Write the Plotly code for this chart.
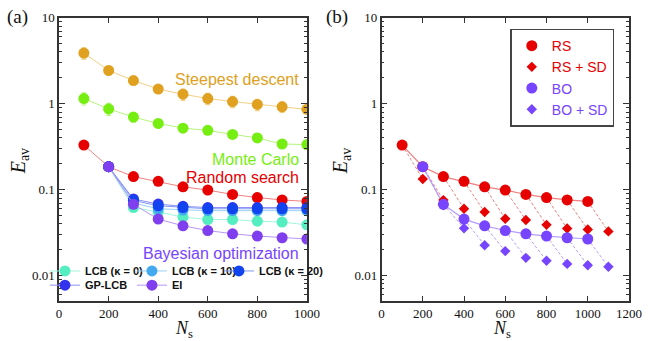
import plotly.graph_objects as go

# ---------------- data ----------------
N = [100, 200, 300, 400, 500, 600, 700, 800, 900, 1000]
steepest = [3.88, 2.44, 1.86, 1.48, 1.29, 1.15, 1.06, 0.98, 0.92, 0.86]
steepest_err = [0.15, 0.12, 0.08, 0.09, 0.15, 0.15, 0.15, 0.15, 0.14, 0.06]
monte = [1.15, 0.87, 0.70, 0.59, 0.52, 0.49, 0.44, 0.40, 0.34, 0.335]
monte_err = [0.16, 0.16, 0.13, 0.11, 0.10, 0.09, 0.09, 0.07, 0.065, 0.02]
rs = [0.33, 0.185, 0.142, 0.125, 0.108, 0.099, 0.088, 0.081, 0.076, 0.073]

N_bo = [200, 300, 400, 500, 600, 700, 800, 900, 1000]
lcb0 = [0.185, 0.062, 0.055, 0.048, 0.045, 0.045, 0.043, 0.042, 0.039]
lcb10 = [0.185, 0.070, 0.060, 0.058, 0.057, 0.057, 0.057, 0.057, 0.057]
lcb20 = [0.185, 0.075, 0.065, 0.062, 0.060, 0.060, 0.060, 0.060, 0.060]
gplcb = [0.185, 0.078, 0.068, 0.064, 0.062, 0.062, 0.062, 0.062, 0.062]
ei = [0.185, 0.0675, 0.0455, 0.038, 0.0335, 0.0307, 0.0289, 0.0276, 0.0267]

N_rs_sd = [200, 300, 400, 500, 600, 700, 800, 900, 1000, 1100]
rs_sd = [0.133, 0.0757, 0.060, 0.055, 0.046, 0.0444, 0.039, 0.0353, 0.0344, 0.0327]
N_bo_sd = [300, 400, 500, 600, 700, 800, 900, 1000, 1100]
bo_sd = [0.066, 0.0356, 0.0226, 0.0193, 0.0161, 0.0149, 0.0137, 0.0132, 0.0127]

ytickvals = [0.01, 0.1, 1, 10]
yticktext = ["0.01", "0.1", "1", "10"]

# ---------------- style ----------------
W, H = 655, 341
C_SD, C_SD_L = "#e0a020", "#f2cf85"
C_MC, C_MC_L = "#77ee11", "#b5f57f"
C_RS, C_RS_L = "#e60000", "#f08080"
C_L0, C_L10, C_L20, C_GP, C_EI = "#55eec0", "#44aaf0", "#1144ee", "#3333ee", "#7f3fee"
C_BO, C_BO_L = "#7744ff", "#b59cff"

def light(hexc, f=0.45):
    h = hexc.lstrip("#")
    r, g, b = (int(h[i:i + 2], 16) for i in (0, 2, 4))
    r, g, b = (int(c + (255 - c) * f) for c in (r, g, b))
    return f"rgb({r},{g},{b})"

fig = go.Figure()
MS = 11

def series(x, y, col, lcol, name=None, err=None, xa="x", ya="y", legend=None, show=False):
    kw = {}
    if err is not None:
        kw["error_y"] = dict(type="data", array=[e * v for e, v in zip(err, y)],
                             color=lcol, thickness=1.2, width=2.5)
    fig.add_trace(go.Scatter(x=x, y=y, mode="lines+markers", name=name,
                             line=dict(color=lcol, width=1),
                             marker=dict(color=col, size=MS, symbol="circle"),
                             xaxis=xa, yaxis=ya, showlegend=show,
                             legend=legend, **kw))

# ---- panel (a) ----
series(N, steepest, C_SD, C_SD_L, err=steepest_err)
series(N, monte, C_MC, C_MC_L, err=monte_err)
series(N, rs, C_RS, C_RS_L)
series(N_bo, lcb0, C_L0, light(C_L0), name="LCB (κ = 0)", legend="legend", show=True)
series(N_bo, lcb10, C_L10, light(C_L10), name="LCB (κ = 10)", legend="legend", show=True)
series(N_bo, gplcb, C_GP, light(C_GP), name="GP-LCB", legend="legend2", show=True)
series(N_bo, lcb20, C_L20, light(C_L20), name="LCB (κ = 20)", legend="legend", show=True)
series(N_bo, ei, C_EI, light(C_EI), name="EI", legend="legend2", show=True)
# invisible spacer entry so the last legend text is not clipped
fig.add_trace(go.Scatter(x=[None], y=[None], mode="markers", name=" ",
                         marker=dict(color="rgba(0,0,0,0)"), legend="legend",
                         showlegend=True, hoverinfo="skip"))

# ---- panel (b) ----
def connectors(xa_list, ya_list, xb_list, yb_list):
    xs, ys = [], []
    for xa_, ya_, xb_, yb_ in zip(xa_list, ya_list, xb_list, yb_list):
        xs += [xa_, xb_, None]
        ys += [ya_, yb_, None]
    return xs, ys

cx, cy = connectors(N, rs, N_rs_sd, rs_sd)
fig.add_trace(go.Scatter(x=cx, y=cy, mode="lines", line=dict(color=C_RS_L, width=1, dash="3px,2px"),
                         xaxis="x2", yaxis="y2", showlegend=False))
cx, cy = connectors(N_bo, ei, N_bo_sd, bo_sd)
fig.add_trace(go.Scatter(x=cx, y=cy, mode="lines", line=dict(color=C_BO_L, width=1, dash="3px,2px"),
                         xaxis="x2", yaxis="y2", showlegend=False))
fig.add_trace(go.Scatter(x=N, y=rs, mode="lines", line=dict(color=C_RS_L, width=1.2),
                         xaxis="x2", yaxis="y2", showlegend=False))
fig.add_trace(go.Scatter(x=N_bo, y=ei, mode="lines", line=dict(color=C_BO_L, width=1.2),
                         xaxis="x2", yaxis="y2", showlegend=False))
fig.add_trace(go.Scatter(x=N, y=rs, mode="markers", name=f"<span style='color:{C_RS}'>RS</span>",
                         marker=dict(color=C_RS, size=MS), xaxis="x2", yaxis="y2",
                         legend="legend3", legendgroup="rs"))
fig.add_trace(go.Scatter(x=N_rs_sd, y=rs_sd, mode="markers", name=f"<span style='color:{C_RS}'>RS + SD</span>",
                         marker=dict(color=C_RS, size=8, symbol="diamond"), xaxis="x2", yaxis="y2",
                         legend="legend3", legendgroup="rs"))
fig.add_trace(go.Scatter(x=N_bo, y=ei, mode="markers", name=f"<span style='color:{C_BO}'>BO</span>",
                         marker=dict(color=C_BO, size=MS), xaxis="x2", yaxis="y2",
                         legend="legend3", legendgroup="bo"))
fig.add_trace(go.Scatter(x=N_bo_sd, y=bo_sd, mode="markers", name=f"<span style='color:{C_BO}'>BO + SD</span>",
                         marker=dict(color=C_BO, size=8, symbol="diamond"), xaxis="x2", yaxis="y2",
                         legend="legend3", legendgroup="bo"))

# ---------------- layout ----------------
px = lambda p: p / W
py = lambda p: 1 - p / H
ydom = [py(300), py(11)]
minor_vals = [m * 10 ** e for e in (-3, -2, -1, 0) for m in range(2, 10)]
tickfont = dict(family="Liberation Serif, Times New Roman, serif", size=13, color="#111")

def xaxis(dom, rng, dtick, anchor):
    return dict(domain=dom, range=rng, tick0=0, dtick=dtick, ticks="inside", ticklen=5,
                tickwidth=1, tickcolor="#333", showline=True, linecolor="#333", linewidth=1.5,
                mirror="ticks", showgrid=False, zeroline=False, tickfont=tickfont,
                anchor=anchor, fixedrange=True)

def yaxis(anchor):
    return dict(domain=ydom, type="log", range=[-2.293, 1], tickvals=ytickvals,
                ticktext=yticktext, ticks="inside", ticklen=6, tickwidth=1, tickcolor="#333",
                minor=dict(tickvals=minor_vals, ticks="inside", ticklen=3, tickcolor="#333"),
                showline=True, linecolor="#333", linewidth=1.5, mirror="ticks",
                showgrid=False, zeroline=False, tickfont=tickfont, anchor=anchor,
                fixedrange=True)

sans = "Liberation Sans, Arial, Helvetica, sans-serif"
serif = "Liberation Serif, Times New Roman, serif"

ann = []
def text(x, y, t, color, size=16, xanchor="right", family=sans, angle=0):
    ann.append(dict(x=px(x), y=py(y), xref="paper", yref="paper", text=t, showarrow=False,
                    xanchor=xanchor, yanchor="middle", textangle=angle,
                    font=dict(family=family, size=size, color=color)))

text(305, 74, "Steepest descent", C_SD)
text(305, 156, "Monte Carlo", C_MC)
text(305, 174, "Random search", C_RS)
text(305, 252, "Bayesian optimization", C_BO)
text(15, 10, "(a)", "#111", size=19, xanchor="center", family=serif)
text(342, 10, "(b)", "#111", size=19, xanchor="center", family=serif)
for xc in (17, 347):
    text(xc, 158, "<i>E</i><sub>av</sub>", "#111", size=20, xanchor="center", family=serif, angle=-90)
for xc in (186, 511):
    text(xc, 329.5, "<i>N</i><sub>s</sub>", "#111", size=18, xanchor="center", family=serif)

legfont = dict(family=sans, size=11, color="#111", weight="bold")
fig.update_layout(
    width=W, height=H, margin=dict(l=0, r=0, t=0, b=0),
    paper_bgcolor="white", plot_bgcolor="white",
    xaxis=xaxis([px(57.5), px(311.5)], [0, 1000], 200, "y"),
    yaxis=yaxis("x"),
    xaxis2=xaxis([px(388), px(641.7)], [0, 1200], 200, "y2"),
    yaxis2=yaxis("x2"),
    legend=dict(x=px(43), y=py(269.5), xanchor="left", yanchor="middle", orientation="h",
                entrywidth=42, itemwidth=30, font=legfont, bgcolor="rgba(0,0,0,0)",
                tracegroupgap=0),
    legend2=dict(x=px(43), y=py(284), xanchor="left", yanchor="middle", orientation="h",
                 entrywidth=42, itemwidth=30, font=legfont, bgcolor="rgba(0,0,0,0)"),
    legend3=dict(x=px(520), y=py(22), xanchor="left", yanchor="top", orientation="v",
                 font=dict(family=sans, size=14), bgcolor="white", bordercolor="#444",
                 borderwidth=1.5, tracegroupgap=0, traceorder="grouped"),
    annotations=ann,
)

fig.write_html("out.html", config={"displayModeBar": False},
               post_script="document.body.style.margin='0';")
